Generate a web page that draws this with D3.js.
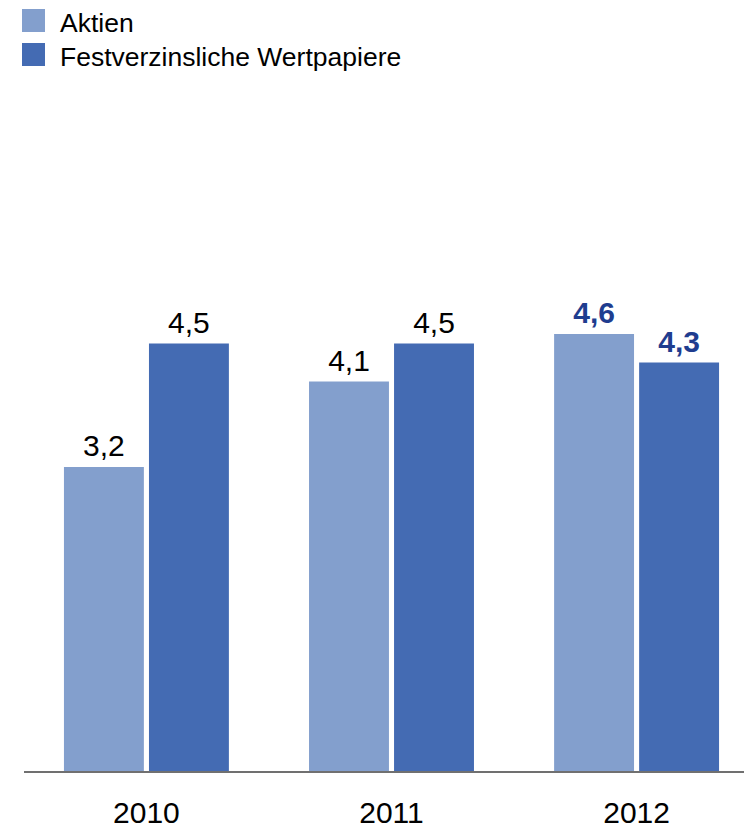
<!DOCTYPE html>
<html>
<head>
<meta charset="utf-8">
<script src="https://cdn.jsdelivr.net/npm/d3@7"></script>
<style>
  body { margin: 0; background: #fff; }
  text { font-family: "Liberation Sans", Arial, sans-serif; }
</style>
</head>
<body>
<svg></svg>
<script>
var years = ["2010", "2011", "2012"];
var series = ["Aktien", "Festverzinsliche Wertpapiere"];
var aktien = [3.2, 4.1, 4.6];
var festverzinslich = [4.5, 4.5, 4.3];
var valueLabels = [["3,2", "4,1", "4,6"], ["4,5", "4,5", "4,3"]];

var colors = ["#839fcd", "#446bb3"];
var highlightColor = "#1f3d8f";

var width = 744, height = 830;
var svg = d3.select("svg").attr("width", width).attr("height", height);

var rows = [];
years.forEach(function (yr, i) {
  rows.push({ year: yr, s: 0, value: aktien[i], label: valueLabels[0][i], last: i === years.length - 1 });
  rows.push({ year: yr, s: 1, value: festverzinslich[i], label: valueLabels[1][i], last: i === years.length - 1 });
});

var x0 = d3.scaleBand().domain(years).range([24, 759]).paddingInner(0.327).paddingOuter(0.163);
var x1 = d3.scaleBand().domain([0, 1]).range([0, x0.bandwidth()]).paddingInner(0.06);
var y = d3.scaleLinear().domain([0, 5]).range([771, 296]);

// bars
svg.append("g")
  .selectAll("rect")
  .data(rows)
  .enter().append("rect")
    .attr("x", function (d) { return x0(d.year) + x1(d.s) })
    .attr("y", function (d) { return y(d.value) })
    .attr("width", x1.bandwidth())
    .attr("height", function (d) { return y(0) - y(d.value) })
    .attr("fill", function (d) { return colors[d.s] });

// value labels
svg.append("g")
  .selectAll("text")
  .data(rows)
  .enter().append("text")
    .attr("x", function (d) { return x0(d.year) + x1(d.s) + x1.bandwidth() / 2 })
    .attr("y", function (d) { return y(d.value) - 11 })
    .attr("text-anchor", "middle")
    .attr("font-size", 30)
    .attr("font-weight", function (d) { return d.last ? "bold" : "normal" })
    .attr("fill", function (d) { return d.last ? highlightColor : "#000" })
    .text(function (d) { return d.label });

// baseline
svg.append("line")
  .attr("x1", 24).attr("x2", width)
  .attr("y1", 772).attr("y2", 772)
  .attr("stroke", "#404040")
  .attr("stroke-width", 1.5);

// year labels
svg.append("g")
  .selectAll("text")
  .data(years)
  .enter().append("text")
    .attr("x", function (d) { return x0(d) + x0.bandwidth() / 2 })
    .attr("y", 823)
    .attr("text-anchor", "middle")
    .attr("font-size", 30)
    .attr("fill", "#000")
    .text(function (d) { return d });

// legend
var legend = svg.append("g")
  .selectAll("g")
  .data(series)
  .enter().append("g")
    .attr("transform", function (d, i) { return "translate(22," + (9 + i * 34) + ")" });

legend.append("rect")
  .attr("width", 23).attr("height", 23)
  .attr("fill", function (d, i) { return colors[i] });

legend.append("text")
  .attr("x", 38).attr("y", 22.5)
  .attr("font-size", 26.5)
  .attr("fill", "#000")
  .text(function (d) { return d });
</script>
</body>
</html>
